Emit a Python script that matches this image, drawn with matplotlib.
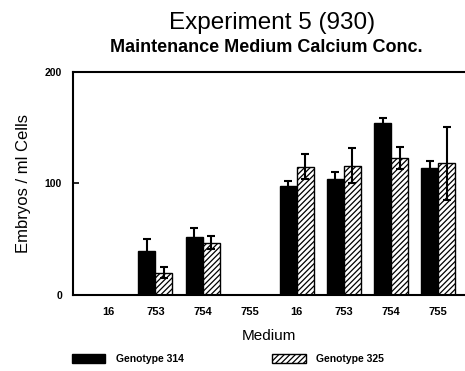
import matplotlib
matplotlib.use("Agg")
import matplotlib.pyplot as plt
import numpy as np

plt.rcParams['font.family'] = ['Liberation Sans', 'DejaVu Sans']
plt.rcParams['hatch.linewidth'] = 0.9

media = ["16", "753", "754", "755", "16", "753", "754", "755"]
g314 = [np.nan, 39, 52, np.nan, 98, 104, 154, 114]
g314_err = [np.nan, 11, 8, np.nan, 4, 6, 5, 6]
g325 = [np.nan, 20, 47, np.nan, 115, 116, 123, 118]
g325_err = [np.nan, 5, 6, np.nan, 11, 16, 10, 33]

fig = plt.figure(figsize=(4.65, 3.71), dpi=100)
ax = fig.add_axes([0.157, 0.205, 0.841, 0.601])

x = np.arange(len(media))
w = 0.36
ax.bar(x - w / 2, g314, width=w, color="black", edgecolor="black", linewidth=1.0,
       label="Genotype 314")
ax.bar(x + w / 2, g325, width=w, color="white", edgecolor="black", linewidth=1.0,
       hatch="//////", label="Genotype 325")
ax.errorbar(x - w / 2, g314, yerr=g314_err, fmt="none", ecolor="black",
            elinewidth=1.5, capsize=3, capthick=1.5)
ax.errorbar(x + w / 2, g325, yerr=g325_err, fmt="none", ecolor="black",
            elinewidth=1.5, capsize=3, capthick=1.5)

ax.set_xlim(-0.75, 7.55)
ax.set_ylim(0, 200)
ax.set_yticks([0, 100, 200])
ax.set_xticks(x)
ax.set_xticklabels(media, fontsize=8, fontweight="bold")
for lab in ax.get_yticklabels():
    lab.set_fontsize(7.5)
    lab.set_fontweight("bold")
ax.tick_params(axis="y", direction="in", length=4, width=1.2, pad=8)
ax.tick_params(axis="x", length=0, pad=9)

for s in ("left", "bottom", "top"):
    ax.spines[s].set_linewidth(1.5)
ax.spines["right"].set_visible(False)

ax.set_ylabel("Embryos / ml Cells", fontsize=12, labelpad=10)
ax.set_xlabel("Medium", fontsize=11, labelpad=8)

fig.text(0.585, 0.937, "Experiment 5 (930)", fontsize=17.5, ha="center", va="center")
fig.text(0.572, 0.873, "Maintenance Medium Calcium Conc.", fontsize=13,
         fontweight="bold", ha="center", va="center")

fig.legend(loc="lower left", bbox_to_anchor=(0.135, -0.006), ncol=2, frameon=False,
           prop={"size": 7.5, "weight": "bold"}, handlelength=3.2,
           handleheight=1.0, handletextpad=1.0, columnspacing=8.5)

fig.savefig("out.png", dpi=100)
